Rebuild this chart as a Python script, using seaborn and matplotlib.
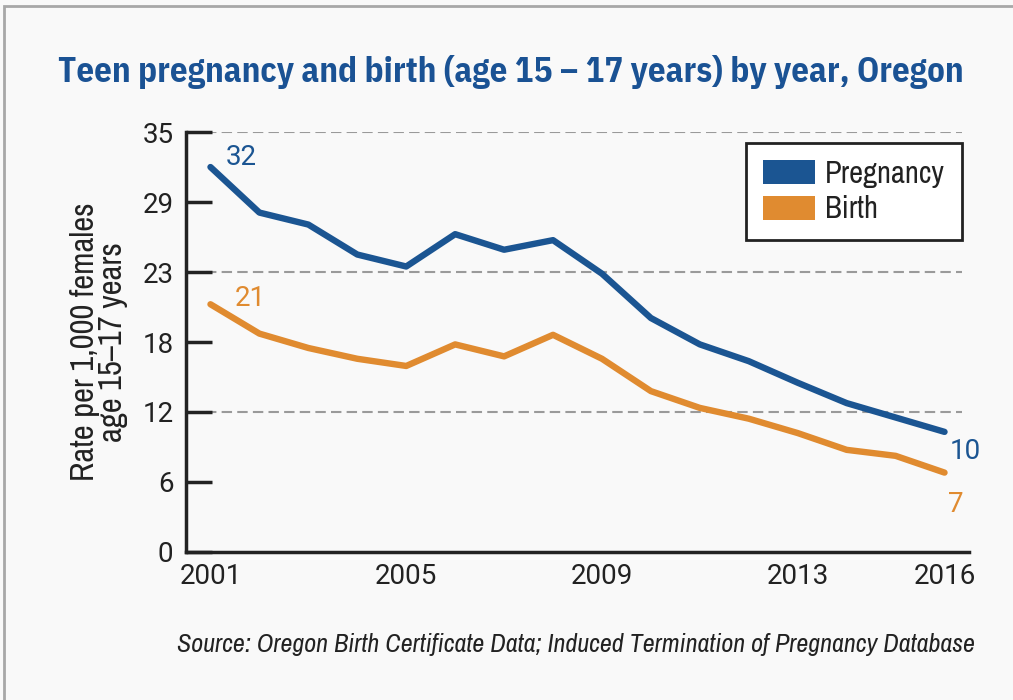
import numpy as np
import pandas as pd
import matplotlib
matplotlib.use("Agg")
import matplotlib.pyplot as plt
from matplotlib.patches import Patch, Rectangle
import seaborn as sns

# data
years = list(range(2001, 2017))
pregnancy = [32.1, 28.3, 27.3, 24.8, 23.8, 26.5, 25.2, 26.0, 23.2, 19.5, 17.3, 15.9, 14.1, 12.4, 11.2, 10.0]
birth = [20.65, 18.2, 17.0, 16.1, 15.5, 17.3, 16.3, 18.1, 16.1, 13.4, 12.0, 11.1, 9.9, 8.5, 8.0, 6.6]
series_names = ["Pregnancy", "Birth"]
x_labels = [2001, 2005, 2009, 2013, 2016]
y_tick_labels = ["0", "6", "12", "18", "23", "29", "35"]

blue = "#1b5592"
orange = "#e08b30"
bg = "#f9f9f9"
ink = "#222222"

df = pd.DataFrame({
    "year": years * 2,
    "rate": pregnancy + birth,
    "series": [series_names[0]] * len(years) + [series_names[1]] * len(years),
})

sns.set_theme(style="white", rc={"axes.facecolor": bg, "figure.facecolor": bg})
plt.rcParams["font.family"] = ["Roboto", "DejaVu Sans"]
narrow = ["Archivo Narrow", "Liberation Sans Narrow", "DejaVu Sans"]
narrow_bold = ["IBM Plex Sans Condensed", "Barlow Condensed", "DejaVu Sans"]

fig = plt.figure(figsize=(10.13, 7.0), dpi=100)
ax = fig.add_axes([186 / 1013, 1 - 551.7 / 700, (969 - 186) / 1013, (551.7 - 132.3) / 700])

sns.lineplot(data=df, x="year", y="rate", hue="series", palette=[blue, orange],
             linewidth=4.6, solid_capstyle="round", legend=False, ax=ax)

ax.set_xlim(years[0] - 0.5, years[-1] + 0.5)
ax.set_ylim(0, 35)

yticks = np.linspace(0, 35, len(y_tick_labels))
ax.set_yticks(yticks)
ax.set_yticklabels(y_tick_labels)
for yv in yticks[2::2]:
    ax.hlines(yv, years[0] - 0.09, years[-1] + 0.36, colors="#9a9a9a",
              linewidth=1.5, linestyles=(0, (5, 2.5)), zorder=0)

ax.set_xticks(x_labels)
ax.set_xticks([y + 0.5 for y in years], minor=True)
ax.tick_params(axis="x", which="major", length=0, pad=8, labelsize=20, colors=ink)
ax.tick_params(axis="x", which="minor", direction="in", length=10, width=2.5, color=ink)
ax.tick_params(axis="y", direction="in", length=19, width=2.5, pad=9, labelsize=20,
               colors=ink, left=True)

for side in ["top", "right"]:
    ax.spines[side].set_visible(False)
for side in ["left", "bottom"]:
    ax.spines[side].set_linewidth(2.5)
    ax.spines[side].set_color(ink)

ax.set_xlabel("")
ax.set_ylabel("Rate per 1,000 females\nage 15\u201317 years", family=narrow, fontsize=23.5,
              color=ink, linespacing=0.95, labelpad=10)

# end labels
ax.annotate(f"{round(pregnancy[0])}", xy=(years[0], pregnancy[0]), xytext=(22, 7),
            textcoords="offset points", color=blue, fontsize=20, ha="center", va="center")
ax.annotate(f"{round(birth[0])}", xy=(years[0], birth[0]), xytext=(29, 4),
            textcoords="offset points", color=orange, fontsize=20, ha="center", va="center")
ax.annotate(f"{round(pregnancy[-1])}", xy=(years[-1], pregnancy[-1]), xytext=(15, -14),
            textcoords="offset points", color=blue, fontsize=20, ha="center", va="center")
ax.annotate(f"{round(birth[-1])}", xy=(years[-1], birth[-1]), xytext=(8, -23),
            textcoords="offset points", color=orange, fontsize=20, ha="center", va="center")

handles = [Patch(facecolor=blue, edgecolor="none"), Patch(facecolor=orange, edgecolor="none")]
leg = ax.legend(handles, series_names, loc="upper right", bbox_to_anchor=(962 / 1013, 1 - 143 / 700),
                bbox_transform=fig.transFigure, frameon=True, fancybox=False,
                handlelength=1.7, handleheight=0.85, handletextpad=0.35, labelspacing=0.25,
                borderpad=0.55, borderaxespad=0, prop={"family": narrow, "size": 22})
leg.get_frame().set_edgecolor(ink)
leg.get_frame().set_linewidth(2)
leg.get_frame().set_facecolor("white")
leg.get_frame().set_alpha(1)
for t in leg.get_texts():
    t.set_color(ink)

fig.text(58 / 1013, 1 - 72 / 700, "Teen pregnancy and birth (age 15 \u2013 17 years) by year, Oregon",
         family=narrow_bold, fontweight="bold", fontsize=25, color="#1a5294", ha="left", va="center")
fig.text(975 / 1013, 1 - 645 / 700,
         "Source: Oregon Birth Certificate Data; Induced Termination of Pregnancy Database",
         family=narrow, style="italic", fontsize=18.8, color=ink, ha="right", va="center")

# outer frame of the graphic
fig.patches.append(Rectangle((4 / 1013, -0.1), 1.2, 1 - 6 / 700 + 0.1, transform=fig.transFigure,
                             fill=False, edgecolor="#a8a8a8", linewidth=2))

fig.savefig("out.png", dpi=100, facecolor=bg)
